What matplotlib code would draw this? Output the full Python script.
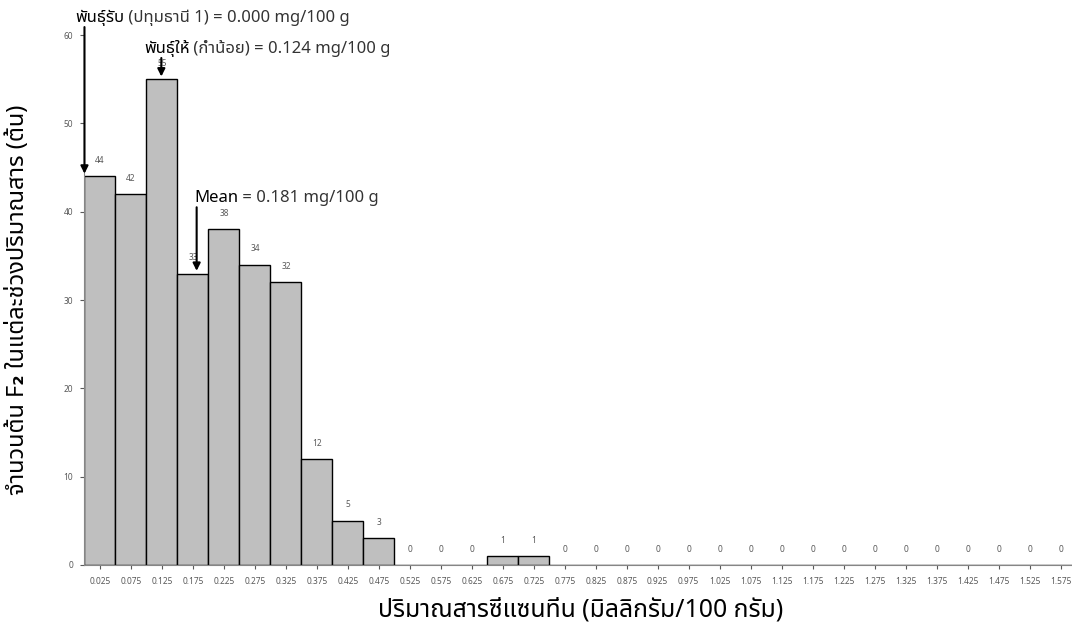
import matplotlib
matplotlib.use('Agg')
import matplotlib.pyplot as plt
import numpy as np
from matplotlib import font_manager
from matplotlib.ft2font import FT2Font

# bin centres (mg/100 g) and number of F2 plants per bin
bin_centers = [0.025, 0.075, 0.125, 0.175, 0.225, 0.275, 0.325, 0.375,
               0.425, 0.475, 0.525, 0.575, 0.625, 0.675, 0.725, 0.775,
               0.825, 0.875, 0.925, 0.975, 1.025, 1.075, 1.125, 1.175,
               1.225, 1.275, 1.325, 1.375, 1.425, 1.475, 1.525, 1.575]
counts = [44, 42, 55, 33, 38, 34, 32, 12, 5, 3, 0, 0, 0, 1, 1, 0,
          0, 0, 0, 0, 0, 0, 0, 0, 0, 0, 0, 0, 0, 0, 0, 0]
bin_width = 0.05

# marked values: (bold name, rest of label, x value)
marks = [
    ('พันธุ์รับ', ' (ปทุมธานี 1) = 0.000 mg/100 g', 0.000),
    ('พันธุ์ให้', ' (ก่ำน้อย) = 0.124 mg/100 g', 0.124),
    ('Mean', ' = 0.181 mg/100 g', 0.181),
]

xlabel = 'ปริมาณสารซีแซนทีน (มิลลิกรัม/100 กรัม)'
ylabel = 'จำนวนต้น F₂ ในแต่ละช่วงปริมาณสาร (ต้น)'


def thai_families():
    found = []
    for f in font_manager.fontManager.ttflist:
        try:
            if FT2Font(f.fname).get_char_index(ord('ก')):
                found.append(f.name)
        except Exception:
            pass
    found = sorted(set(found))
    pref = [n for n in found if 'Noto Sans Thai' in n]
    return pref + [n for n in found if n not in pref]


fams = thai_families()
plt.rcParams['font.family'] = fams[:3] + ['DejaVu Sans']

fig = plt.figure(figsize=(10.72, 6.23), dpi=100)
ax = fig.add_axes([0.0788, 0.0931, 0.925, 0.8507])

ax.bar(bin_centers, counts, width=bin_width, color='#BFBFBF',
       edgecolor='black', linewidth=1.0)
for x, c in zip(bin_centers, counts):
    ax.text(x, c + 1.3, str(c), ha='center', va='bottom',
            fontsize=6, color='#595959')

ax.set_xlim(0, bin_width * len(bin_centers))
ax.set_ylim(0, 60)
ax.set_xticks(bin_centers)
ax.set_xticklabels([f'{v:.3f}' for v in bin_centers])
ax.set_yticks(np.arange(0, 61, 10))
ax.tick_params(axis='both', labelsize=6, colors='#595959', length=3,
               width=0.8)
ax.tick_params(axis='x', pad=6)
ax.tick_params(axis='y', pad=5)
for s in ('top', 'right'):
    ax.spines[s].set_visible(False)
for s in ('left', 'bottom'):
    ax.spines[s].set_color('#868686')

ax.set_xlabel(xlabel, fontsize=17.8, fontweight='bold', labelpad=8)
ax.set_ylabel(ylabel, fontsize=17, fontweight='bold', labelpad=24)

# annotation layout: (text left x, text y, arrow start y, arrow end y)
ann_pos = [(-0.0153, 61.9, 60.9, 44.3),
           (0.096, 58.5, 57.4, 55.3),
           (0.1766, 41.5, 40.5, 33.3)]
for (bold, rest, xv), (tx, ty, ys, ye) in zip(marks, ann_pos):
    t1 = ax.text(tx, ty, bold, fontsize=12, fontweight='bold',
                 ha='left', va='center', clip_on=False)
    ax.annotate(rest, xy=(1, 0.5), xycoords=t1, ha='left', va='center',
                fontsize=12, color='#333333', annotation_clip=False)
    ax.annotate('', xy=(xv, ye), xytext=(xv, ys),
                arrowprops=dict(arrowstyle='-|>', color='black', lw=1.5,
                                shrinkA=0, shrinkB=0, mutation_scale=11),
                annotation_clip=False)

fig.savefig('out.png', dpi=100)
